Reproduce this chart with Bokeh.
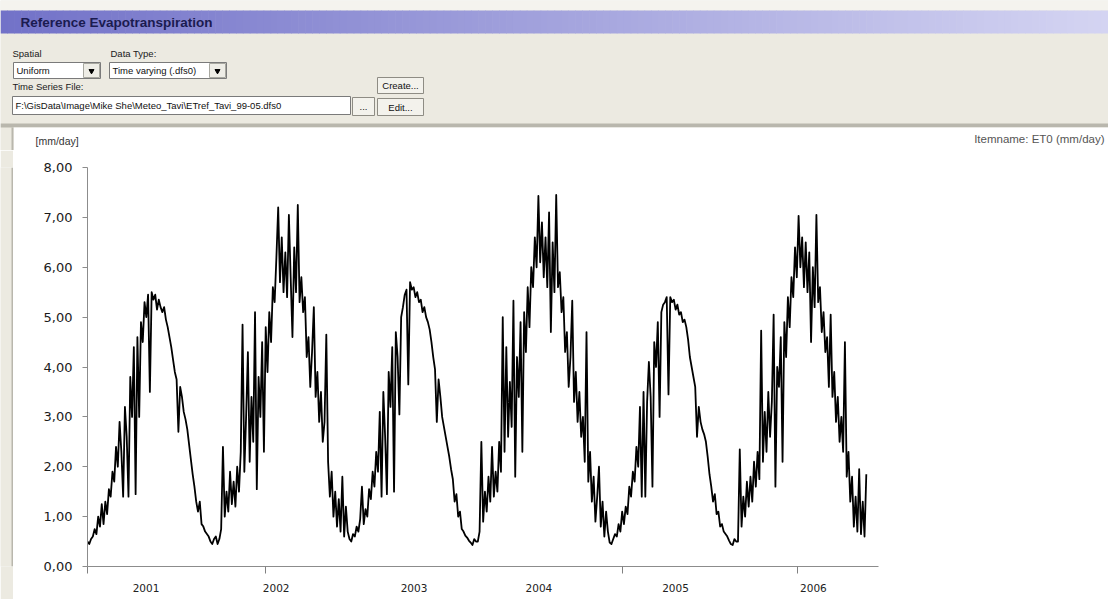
import numpy as np
from bokeh.plotting import figure
from bokeh.layouts import column, row
from bokeh.models import FixedTicker, Range1d, CustomJSTickFormatter
from bokeh.embed import file_html
from bokeh.resources import INLINE
from bokeh.core.properties import value

# ---------------- data (5-day steps from 2001-01-01) ----------------
START_YEAR = 2001
STEP_DAYS = 5

etr_2001 = [0.50, 0.45, 0.55, 0.60, 0.75, 0.65, 1.00, 0.80, 1.25, 0.85,
            1.30, 1.05, 1.55, 1.40, 1.90, 1.70, 2.40, 2.00, 2.90, 2.30,
            1.40, 3.20, 2.60, 1.40, 3.80, 3.00, 4.40, 1.45, 4.60, 3.00,
            4.90, 4.50, 5.30, 5.00, 5.45, 3.50, 5.50, 5.35, 5.45, 5.15,
            5.35, 5.20, 5.10, 5.20, 4.95, 4.80, 4.60, 4.40, 4.15, 3.90,
            3.75, 2.70, 3.60, 3.40, 3.10, 2.95, 2.75, 2.45, 2.15, 1.85,
            1.60, 1.30, 1.10, 1.30, 0.85, 0.80, 0.70, 0.65, 0.60, 0.50,
            0.45, 0.55, 0.60]
etr_2002 = [0.45, 0.55, 0.75, 2.40, 1.00, 1.50, 1.10, 1.90, 1.25, 1.70,
            1.20, 2.00, 1.50, 2.30, 4.85, 1.90, 3.00, 4.30, 2.10, 3.40,
            2.50, 5.10, 1.55, 3.80, 3.00, 4.50, 2.30, 4.80, 3.90, 5.10,
            4.50, 5.60, 5.30, 6.20, 7.20, 5.70, 6.60, 5.50, 6.30, 5.40,
            7.05, 5.80, 4.60, 6.40, 5.50, 7.25, 5.30, 5.80, 5.10, 5.40,
            4.20, 4.60, 3.60, 4.30, 5.20, 3.40, 3.90, 2.90, 3.50, 2.50,
            2.90, 4.65, 2.10, 1.40, 1.90, 1.00, 1.50, 0.80, 1.35, 0.70,
            1.80, 0.60, 1.20]
etr_2003 = [0.70, 0.55, 0.50, 0.65, 0.60, 0.80, 0.70, 0.95, 1.60, 0.85,
            1.15, 1.00, 1.55, 1.35, 1.90, 1.60, 2.30, 1.90, 3.10, 1.40,
            3.50, 2.60, 1.45, 3.90, 3.20, 4.40, 1.50, 4.70, 4.20, 3.05,
            5.00, 5.20, 5.45, 5.55, 3.65, 5.70, 5.55, 5.60, 5.40, 5.50,
            5.30, 5.35, 5.10, 5.20, 5.00, 4.90, 4.75, 4.50, 4.20, 3.95,
            2.90, 3.75, 3.40, 3.00, 2.80, 2.60, 2.40, 2.20, 1.95, 1.75,
            1.30, 1.45, 1.00, 1.10, 0.75, 0.70, 0.62, 0.58, 0.52, 0.48,
            0.43, 0.55, 0.50]
etr_2004 = [0.50, 0.70, 2.50, 0.90, 1.50, 1.10, 1.80, 1.30, 2.40, 1.40,
            1.90, 1.50, 2.50, 1.90, 5.00, 2.30, 4.40, 2.60, 3.70, 2.80,
            5.33, 1.80, 4.20, 3.40, 4.90, 2.30, 5.10, 4.30, 5.60, 4.80,
            6.00, 5.60, 6.60, 6.00, 7.43, 6.10, 6.90, 5.80, 6.60, 5.60,
            7.10, 4.70, 6.50, 5.50, 7.45, 5.60, 5.90, 5.10, 5.40, 4.30,
            4.70, 3.60, 4.20, 5.33, 3.30, 3.90, 2.90, 3.50, 2.60, 3.00,
            2.10, 4.70, 1.70, 2.30, 1.30, 1.80, 0.90, 1.40, 2.00, 0.80,
            1.30, 0.60, 1.10]
etr_2005 = [0.70, 0.48, 0.45, 0.55, 0.65, 0.60, 0.85, 0.70, 1.10, 0.85,
            1.20, 1.05, 1.60, 1.40, 1.90, 1.70, 2.40, 2.00, 3.20, 1.40,
            3.50, 1.40, 3.30, 4.10, 3.40, 1.60, 4.50, 4.00, 4.90, 3.00,
            5.10, 5.25, 5.30, 5.40, 3.45, 5.40, 5.30, 5.35, 5.15, 5.25,
            5.05, 5.10, 4.90, 4.95, 4.80, 4.55, 4.20, 4.00, 3.80, 3.60,
            2.60, 3.20, 2.90, 2.75, 2.65, 2.50, 2.20, 1.85, 1.60, 1.30,
            1.45, 1.05, 1.10, 0.80, 0.85, 0.70, 0.65, 0.60, 0.52, 0.45,
            0.43, 0.55, 0.50]
etr_2006 = [0.50, 2.35, 0.80, 1.40, 1.00, 1.70, 1.20, 1.80, 1.30, 2.10,
            1.60, 2.30, 1.75, 4.73, 2.10, 3.10, 2.30, 3.50, 2.60, 3.30,
            5.05, 1.60, 4.00, 3.60, 4.60, 2.10, 4.90, 4.20, 5.40, 4.80,
            5.80, 5.40, 6.40, 5.80, 7.03, 6.00, 6.60, 5.60, 6.50, 5.50,
            6.30, 4.50, 6.00, 5.20, 7.05, 5.30, 5.60, 4.70, 5.10, 4.30,
            4.60, 3.60, 5.05, 3.40, 3.90, 2.90, 3.40, 2.50, 3.00, 2.30,
            4.50, 1.80, 2.30, 1.30, 1.80, 0.80, 1.40, 0.70, 1.95, 0.65,
            1.30, 0.60, 1.85]

year_labels = ["2001", "2002", "2003", "2004", "2005", "2006"]
year_label_pos = [2001.45, 2002.45, 2003.51, 2004.47, 2005.52, 2006.58]
x_tick_marks = [2001.0, 2002.37, 2005.11, 2006.46]
y_ticks = [0, 1, 2, 3, 4, 5, 6, 7, 8]
y_tick_labels = ["0,00", "1,00", "2,00", "3,00", "4,00", "5,00", "6,00", "7,00", "8,00"]

etr = np.array(etr_2001 + etr_2002 + etr_2003 + etr_2004 + etr_2005 + etr_2006)
t = START_YEAR + np.arange(len(etr)) * STEP_DAYS / 365.0

UI_FONT = value("Liberation Sans")
BEIGE = "#ECEAE1"

# ---------------- top (dialog) area ----------------
top = figure(width=1108, height=150, x_range=Range1d(0, 1108), y_range=Range1d(150, 0),
             output_backend="svg", toolbar_location=None, min_border=0,
             x_axis_type=None, y_axis_type=None)
top.grid.visible = False
top.outline_line_color = None
top.background_fill_color = BEIGE
top.border_fill_color = BEIGE

top.quad(left=0, right=1108, top=0, bottom=10, fill_color="#F4F3EE", line_color=None)
# gradient title bar
n = 160
edges = np.linspace(0, 1108, n + 1)
c0 = np.array([114, 114, 200])
c1 = np.array([212, 212, 242])
fr = np.linspace(0, 1, n)
cols = ["#%02x%02x%02x" % tuple(int(round(v)) for v in (c0 + (c1 - c0) * f)) for f in fr]
top.quad(left=edges[:-1], right=edges[1:] + 0.6, top=10, bottom=33, fill_color=cols, line_color=None)
top.text(x=[20], y=[22], text=["Reference Evapotranspiration"], text_font=UI_FONT,
         text_font_size=value("13.5px"), text_font_style="bold", text_color="#1b1b50",
         text_baseline="middle")

ui_labels = ["Spatial", "Data Type:", "Time Series File:"]
ui_label_x = [12, 110, 12]
ui_label_y = [53, 53, 86]
top.text(x=ui_label_x, y=ui_label_y, text=ui_labels, text_font=UI_FONT,
         text_font_size=value("9.5px"), text_color="#202020", text_baseline="middle")

# combo boxes and text field
top.quad(left=[13, 109, 12], right=[100, 226, 350], top=[62, 62, 96], bottom=[78, 78, 114],
         fill_color="white", line_color="#7a7a7a", line_width=1)
top.quad(left=[83, 209], right=[99, 225], top=[63, 63], bottom=[77, 77],
         fill_color="#EEEDE6", line_color="#a8a8a0")
top.scatter(x=[91, 217], y=[70.5, 70.5], marker="inverted_triangle", size=5, color="black")
top.text(x=[16, 112], y=[70, 70], text=["Uniform", "Time varying (.dfs0)"], text_font=UI_FONT,
         text_font_size=value("9.5px"), text_color="#101010", text_baseline="middle")
top.text(x=[15], y=[105], text=["F:\\GisData\\Image\\Mike She\\Meteo_Tavi\\ETref_Tavi_99-05.dfs0"],
         text_font=UI_FONT, text_font_size=value("9.5px"), text_color="#101010", text_baseline="middle")

# buttons
top.quad(left=[352, 377, 377], right=[374, 423, 423], top=[97, 77, 98], bottom=[115, 93, 115],
         fill_color="#F3F2EC", line_color="#8e8c84")
top.text(x=[363, 400, 400], y=[106, 85, 106.5], text=["...", "Create...", "Edit..."],
         text_font=UI_FONT, text_font_size=value("9.5px"), text_color="#101010",
         text_baseline="middle", text_align="center")

# chart panel top
top.quad(left=0, right=1108, top=123, bottom=127, fill_color="#B9B7AD", line_color=None)
top.quad(left=13, right=1108, top=127, bottom=150, fill_color="white", line_color=None)
top.quad(left=11, right=13, top=127, bottom=150, fill_color="#B9B7AD", line_color=None)
top.text(x=[35], y=[140], text=["[mm/day]"], text_font=UI_FONT, text_font_size=value("10.5px"),
         text_color="#333333", text_baseline="middle")
top.text(x=[1104], y=[138], text=["Itemname: ET0 (mm/day)"], text_font=UI_FONT,
         text_font_size=value("11.5px"), text_color="#555555", text_baseline="middle",
         text_align="right")

# ---------------- left window strip ----------------
strip = figure(width=13, height=449, x_range=Range1d(0, 13), y_range=Range1d(0, 449),
               output_backend="svg", toolbar_location=None, min_border=0,
               x_axis_type=None, y_axis_type=None)
strip.grid.visible = False
strip.outline_line_color = None
strip.background_fill_color = BEIGE
strip.border_fill_color = BEIGE
strip.quad(left=11, right=13, top=449, bottom=0, fill_color="#B9B7AD", line_color=None)

# ---------------- chart ----------------
p = figure(width=1095, height=449, x_range=Range1d(2001.0, 2007.08), y_range=Range1d(0, 8),
           output_backend="svg", toolbar_location=None,
           min_border_left=74, min_border_right=230, min_border_top=17, min_border_bottom=33)
p.grid.visible = False
p.outline_line_color = None
p.background_fill_color = "white"
p.border_fill_color = "white"

p.line(t, etr, line_color="black", line_width=1.8, line_join="round")

xa = p.xaxis[0]
xa.ticker = FixedTicker(ticks=year_label_pos, minor_ticks=x_tick_marks)
xa.formatter = CustomJSTickFormatter(args=dict(pos=year_label_pos, labels=year_labels),
                                     code="const i = pos.findIndex(v => Math.abs(v - tick) < 1e-6); return i >= 0 ? labels[i] : '';")
xa.major_tick_out = 0
xa.major_tick_in = 0
xa.major_tick_line_color = None
xa.minor_tick_out = 7
xa.minor_tick_in = 0
xa.minor_tick_line_color = "#808080"
xa.axis_line_color = "#8c8c8c"
xa.major_label_text_font = "DejaVu Sans"
xa.major_label_text_font_size = "10.5px"
xa.major_label_text_color = "#222222"
xa.major_label_standoff = 10

ya = p.yaxis[0]
ya.ticker = FixedTicker(ticks=y_ticks, minor_ticks=[])
ya.formatter = CustomJSTickFormatter(args=dict(pos=y_ticks, labels=y_tick_labels),
                                     code="const i = pos.findIndex(v => Math.abs(v - tick) < 1e-6); return i >= 0 ? labels[i] : '';")
ya.major_tick_out = 5
ya.major_tick_in = 0
ya.minor_tick_out = 0
ya.major_tick_line_color = "#8c8c8c"
ya.axis_line_color = "#8c8c8c"
ya.major_label_text_font = "DejaVu Sans"
ya.major_label_text_font_size = "13px"
ya.major_label_text_color = "#1a1a1a"
ya.major_label_standoff = 10

layout = column(top, row(strip, p, spacing=0), spacing=0)

open("out.html", "w").write(file_html(layout, INLINE))
